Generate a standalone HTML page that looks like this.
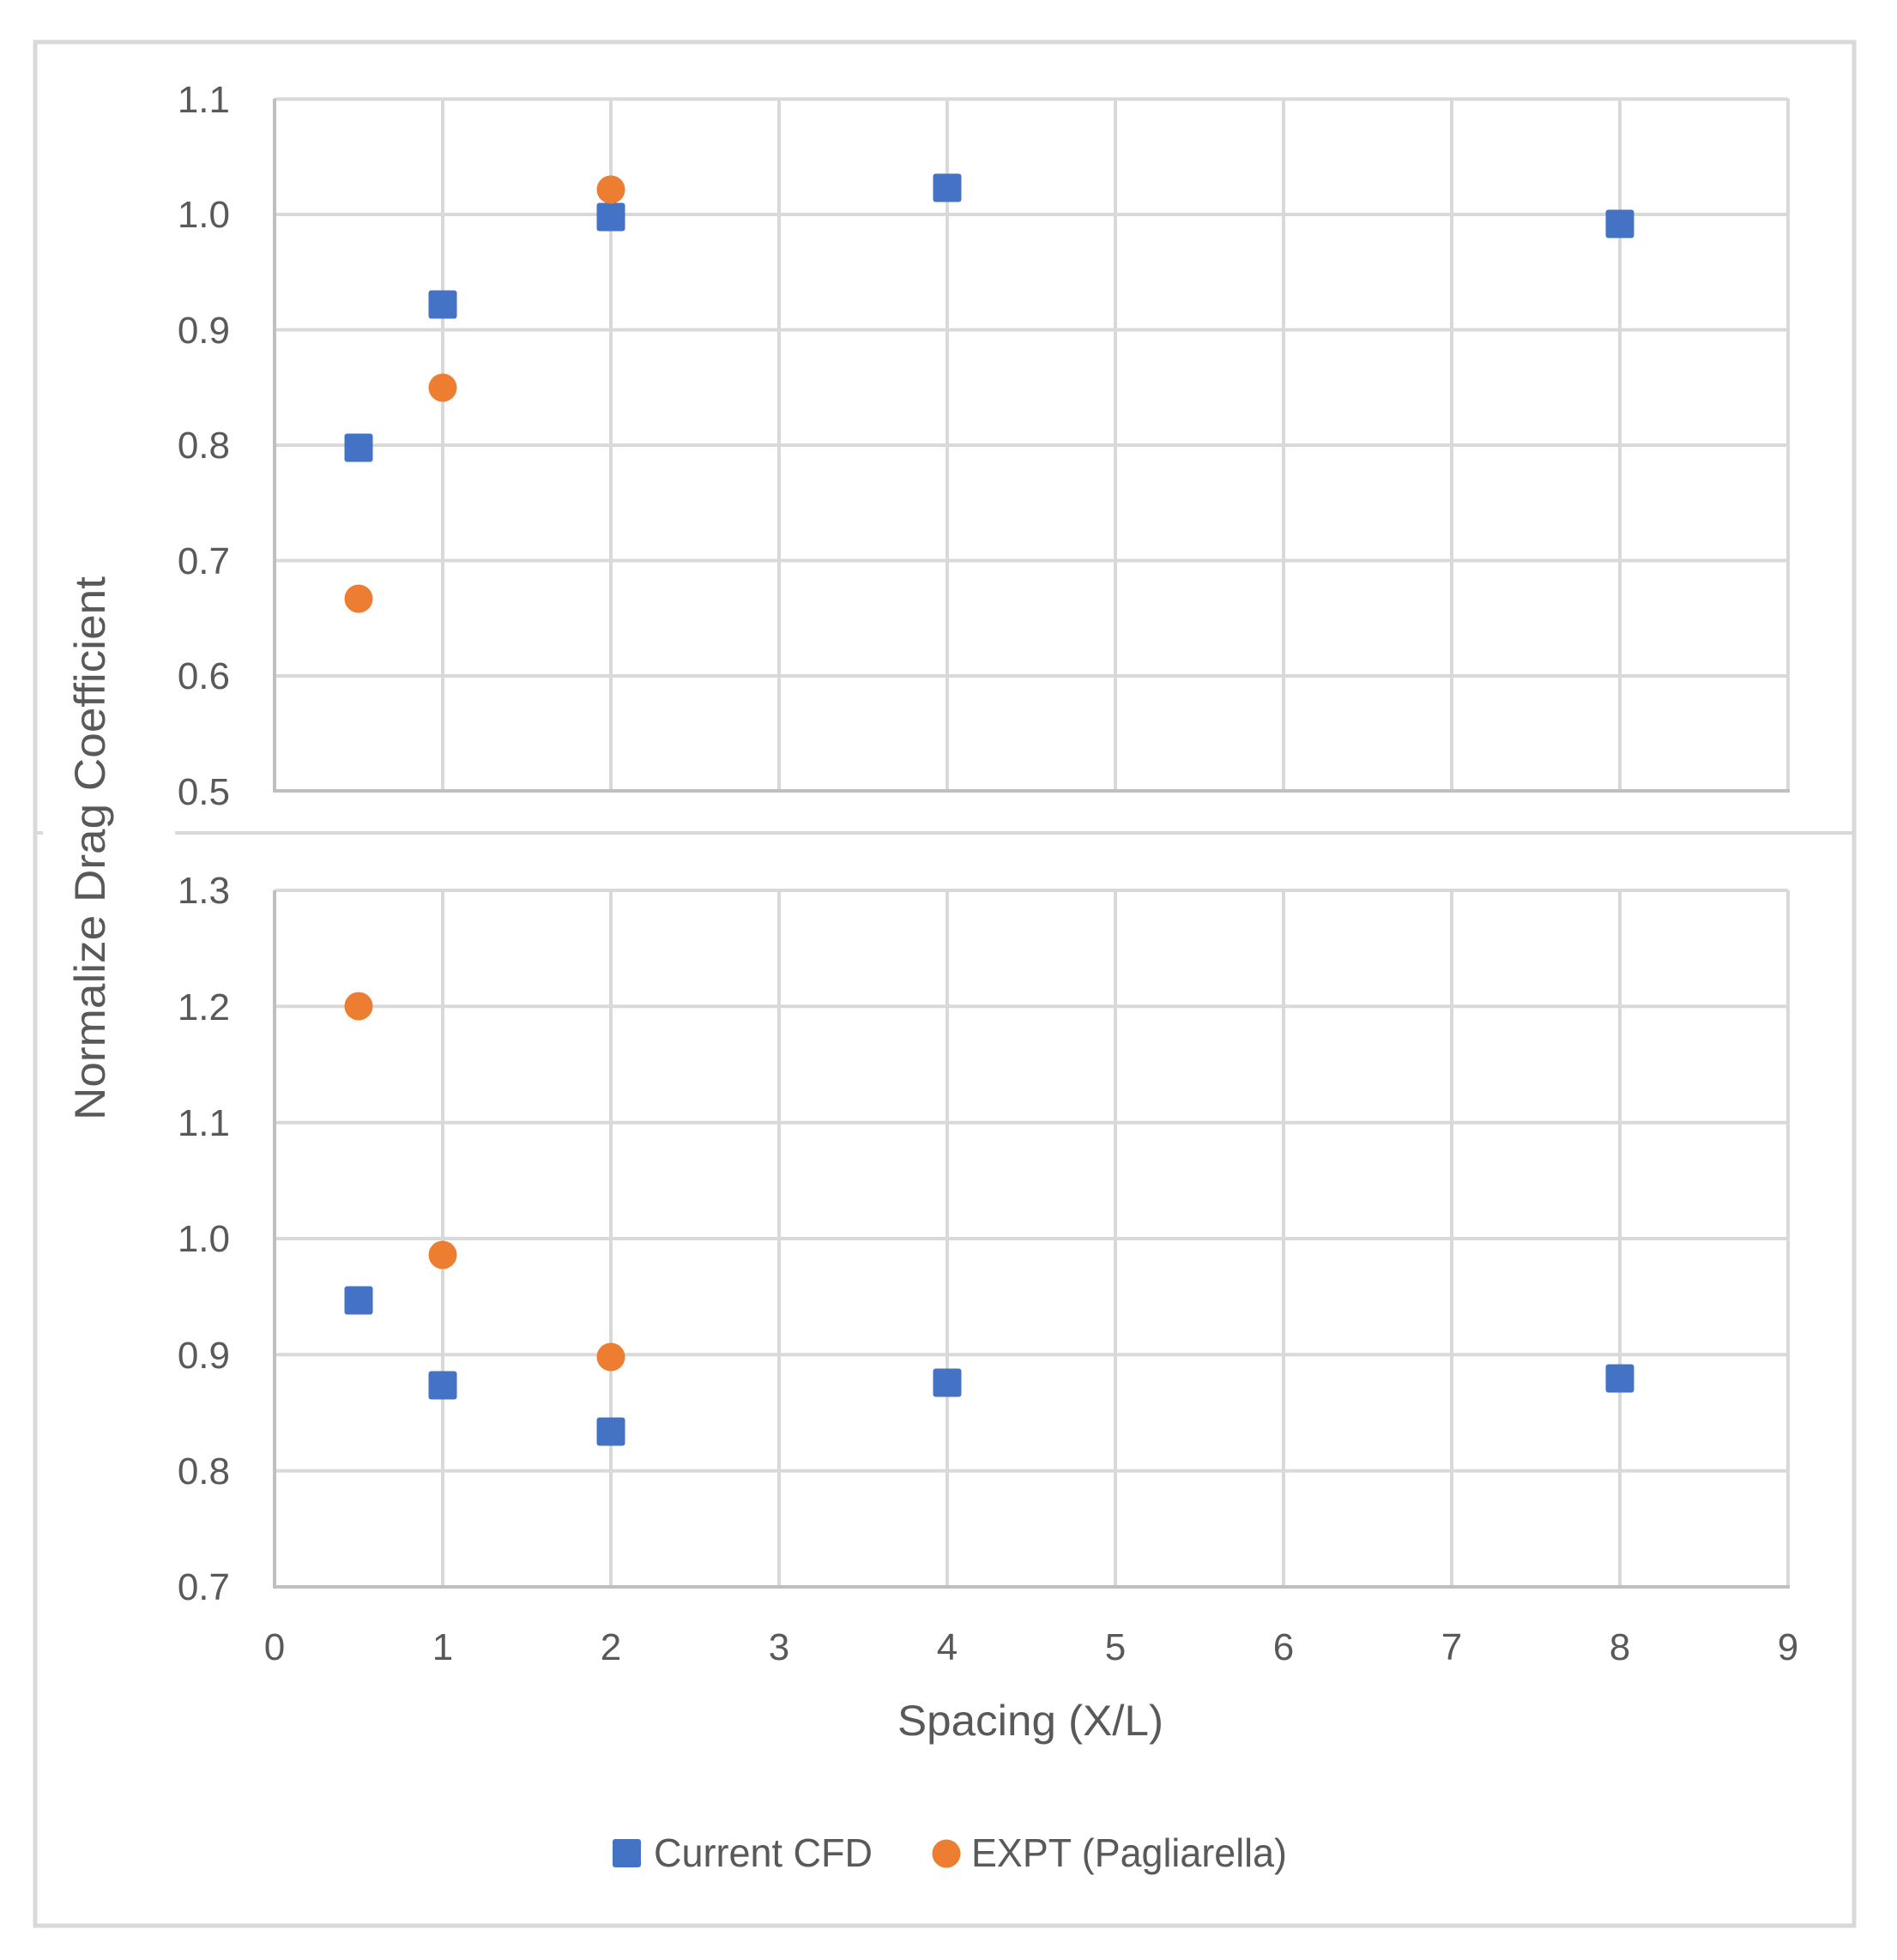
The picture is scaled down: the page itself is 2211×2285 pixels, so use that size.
<!DOCTYPE html>
<html><head><meta charset="utf-8"><style>
html,body{margin:0;padding:0;background:#fff;}
svg{display:block;}
text{font-family:"Liberation Sans",sans-serif;fill:#595959;}
</style></head><body>
<svg width="2211" height="2285" viewBox="0 0 2211 2285" xmlns="http://www.w3.org/2000/svg">
<rect x="0" y="0" width="2211" height="2285" fill="#fff"/>
<rect x="41" y="49" width="2120" height="2196" fill="none" stroke="#d9d9d9" stroke-width="5"/>
<line x1="204" y1="971" x2="2161" y2="971" stroke="#d9d9d9" stroke-width="4"/>
<line x1="41" y1="971" x2="50" y2="971" stroke="#d9d9d9" stroke-width="4"/>
<g stroke="#d9d9d9" stroke-width="4">
<!-- top grid -->
<line x1="320" y1="115.5" x2="2084" y2="115.5"/>
<line x1="320" y1="250" x2="2084" y2="250"/>
<line x1="320" y1="384.5" x2="2084" y2="384.5"/>
<line x1="320" y1="519" x2="2084" y2="519"/>
<line x1="320" y1="653.5" x2="2084" y2="653.5"/>
<line x1="320" y1="788" x2="2084" y2="788"/>
<line x1="516" y1="115" x2="516" y2="922"/>
<line x1="712" y1="115" x2="712" y2="922"/>
<line x1="908" y1="115" x2="908" y2="922"/>
<line x1="1104" y1="115" x2="1104" y2="922"/>
<line x1="1300" y1="115" x2="1300" y2="922"/>
<line x1="1496" y1="115" x2="1496" y2="922"/>
<line x1="1692" y1="115" x2="1692" y2="922"/>
<line x1="1888" y1="115" x2="1888" y2="922"/>
<line x1="2084" y1="115" x2="2084" y2="922"/>
<!-- bottom grid -->
<line x1="320" y1="1038" x2="2084" y2="1038"/>
<line x1="320" y1="1173.3" x2="2084" y2="1173.3"/>
<line x1="320" y1="1308.7" x2="2084" y2="1308.7"/>
<line x1="320" y1="1444" x2="2084" y2="1444"/>
<line x1="320" y1="1579.3" x2="2084" y2="1579.3"/>
<line x1="320" y1="1714.7" x2="2084" y2="1714.7"/>
<line x1="516" y1="1038" x2="516" y2="1850"/>
<line x1="712" y1="1038" x2="712" y2="1850"/>
<line x1="908" y1="1038" x2="908" y2="1850"/>
<line x1="1104" y1="1038" x2="1104" y2="1850"/>
<line x1="1300" y1="1038" x2="1300" y2="1850"/>
<line x1="1496" y1="1038" x2="1496" y2="1850"/>
<line x1="1692" y1="1038" x2="1692" y2="1850"/>
<line x1="1888" y1="1038" x2="1888" y2="1850"/>
<line x1="2084" y1="1038" x2="2084" y2="1850"/>
</g>
<g stroke="#bfbfbf" stroke-width="4">
<line x1="320" y1="115" x2="320" y2="924"/>
<line x1="318" y1="922" x2="2086" y2="922"/>
<line x1="320" y1="1038" x2="320" y2="1852"/>
<line x1="318" y1="1850" x2="2086" y2="1850"/>
</g>
<g font-size="44" text-anchor="end">
<text x="268" y="131">1.1</text>
<text x="268" y="265">1.0</text>
<text x="268" y="400">0.9</text>
<text x="268" y="534">0.8</text>
<text x="268" y="669">0.7</text>
<text x="268" y="803">0.6</text>
<text x="268" y="938">0.5</text>
<text x="268" y="1053">1.3</text>
<text x="268" y="1189">1.2</text>
<text x="268" y="1324">1.1</text>
<text x="268" y="1459">1.0</text>
<text x="268" y="1595">0.9</text>
<text x="268" y="1730">0.8</text>
<text x="268" y="1865">0.7</text>
</g>
<g font-size="44" text-anchor="middle">
<text x="320" y="1935">0</text>
<text x="516" y="1935">1</text>
<text x="712" y="1935">2</text>
<text x="908" y="1935">3</text>
<text x="1104" y="1935">4</text>
<text x="1300" y="1935">5</text>
<text x="1496" y="1935">6</text>
<text x="1692" y="1935">7</text>
<text x="1888" y="1935">8</text>
<text x="2084" y="1935">9</text>
</g>
<text x="1046" y="2023" font-size="50" textLength="310" lengthAdjust="spacingAndGlyphs">Spacing (X/L)</text>
<text transform="translate(122,1306) rotate(-90)" font-size="50" textLength="634" lengthAdjust="spacingAndGlyphs">Normalize Drag Coefficient</text>
<!-- top markers -->
<g fill="#4472C4">
<rect x="401.5" y="505.5" width="33" height="33" rx="3"/>
<rect x="499.5" y="338.5" width="33" height="33" rx="3"/>
<rect x="695.5" y="236.5" width="33" height="33" rx="3"/>
<rect x="1087.5" y="202.5" width="33" height="33" rx="3"/>
<rect x="1871.5" y="244.5" width="33" height="33" rx="3"/>
</g>
<g fill="#ED7D31">
<circle cx="418" cy="698" r="16.5"/>
<circle cx="516" cy="452" r="16.5"/>
<circle cx="712" cy="221" r="16.5"/>
</g>
<!-- bottom markers -->
<g fill="#4472C4">
<rect x="401.5" y="1499.5" width="33" height="33" rx="3"/>
<rect x="499.5" y="1598.5" width="33" height="33" rx="3"/>
<rect x="695.5" y="1652.5" width="33" height="33" rx="3"/>
<rect x="1087.5" y="1595.5" width="33" height="33" rx="3"/>
<rect x="1871.5" y="1590.5" width="33" height="33" rx="3"/>
</g>
<g fill="#ED7D31">
<circle cx="418" cy="1173" r="16.5"/>
<circle cx="516" cy="1463" r="16.5"/>
<circle cx="712" cy="1582" r="16.5"/>
</g>
<!-- legend -->
<rect x="714" y="2144" width="33" height="33" rx="3" fill="#4472C4"/>
<text x="762" y="2176" font-size="46" textLength="255" lengthAdjust="spacingAndGlyphs">Current CFD</text>
<circle cx="1103" cy="2161" r="16.5" fill="#ED7D31"/>
<text x="1132" y="2176" font-size="46" textLength="368" lengthAdjust="spacingAndGlyphs">EXPT (Pagliarella)</text>
</svg>
</body></html>
